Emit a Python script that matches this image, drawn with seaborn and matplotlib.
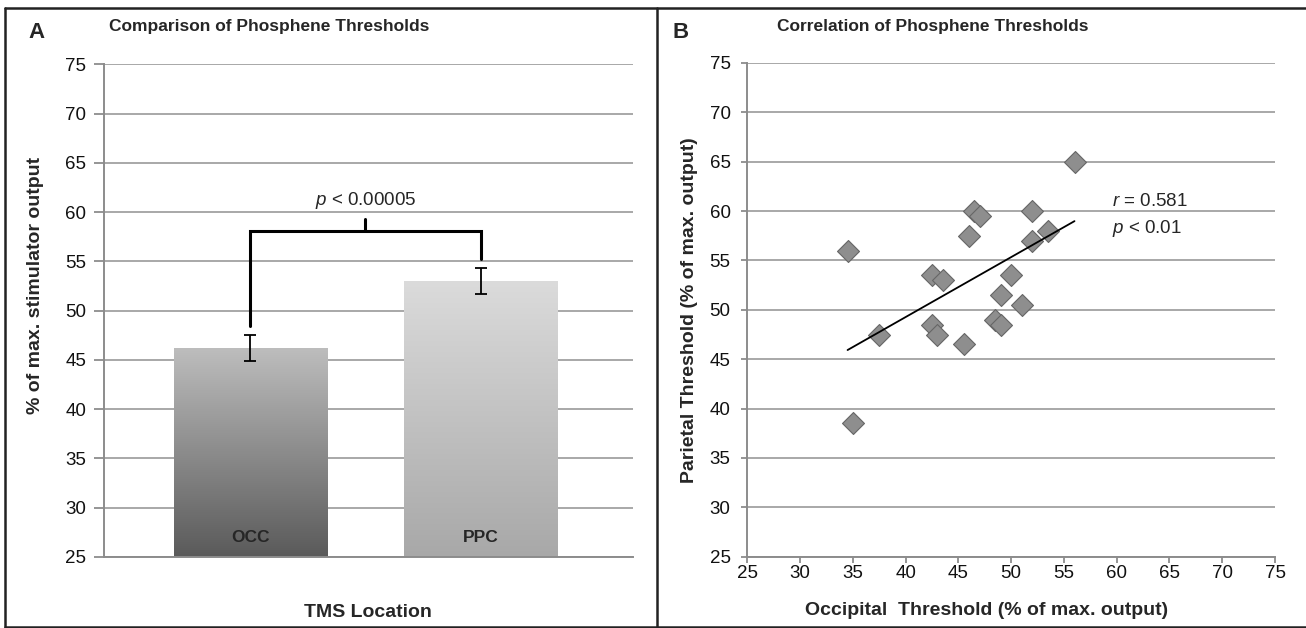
import numpy as np
import pandas as pd
import matplotlib
matplotlib.use('Agg')
import matplotlib.pyplot as plt
import seaborn as sns
from matplotlib import font_manager
from matplotlib.colors import LinearSegmentedColormap
from matplotlib.lines import Line2D

# ---------------------------------------------------------------
# Panel A: mean phosphene threshold per TMS location (+/- SEM)
# ---------------------------------------------------------------
locations = ['OCC', 'PPC']
mean_threshold = [46.2, 53.0]
sem_threshold = [1.35, 1.35]
bar_bottom_colors = ['#5a5a5a', '#a8a8a8']
bar_top_colors = ['#bdbdbd', '#dbdbdb']
p_text_a = '$p$ < 0.00005'

# ---------------------------------------------------------------
# Panel B: occipital vs parietal thresholds per subject
# ---------------------------------------------------------------
occipital = [56.0, 46.5, 47.0, 52.0, 46.0, 53.5, 52.0, 42.5, 43.5, 50.0,
             49.0, 51.0, 42.5, 43.0, 48.5, 49.0, 45.5, 37.5, 34.5, 35.0]
parietal = [65.0, 60.0, 59.5, 60.0, 57.5, 58.0, 57.0, 53.5, 53.0, 53.5,
            51.5, 50.5, 48.5, 47.5, 49.0, 48.5, 46.5, 47.5, 56.0, 38.5]
r_text = '$r$ = 0.581'
p_text_b = '$p$ < 0.01'

axis_ticks = np.arange(25, 80, 5)

sns.set_theme(style='white')
plt.rcParams['font.family'] = ['Liberation Sans', 'DejaVu Sans']
plt.rcParams['mathtext.fontset'] = 'custom'
plt.rcParams['mathtext.it'] = 'Liberation Sans:italic'
plt.rcParams['mathtext.rm'] = 'Liberation Sans'

# titles in the original use a narrow bold face
installed = {f.name for f in font_manager.fontManager.ttflist}
if 'Liberation Sans Narrow' in installed:
    title_font = dict(family=['Liberation Sans Narrow', 'DejaVu Sans'], fontsize=15)
else:
    title_font = dict(family=['Liberation Sans', 'DejaVu Sans'], fontsize=12.5)

grid_col = '#a8a8a8'
spine_col = '#8c8c8c'

fig = plt.figure(figsize=(13.06, 6.28), dpi=100)
axA = fig.add_axes([0.0793, 0.1131, 0.4054, 0.7845])
axB = fig.add_axes([0.5722, 0.1135, 0.4041, 0.7862])

# ---------------- Panel A ----------------
df_a = pd.DataFrame({'loc': locations, 'thr': mean_threshold})
sns.barplot(data=df_a, x='loc', y='thr', ax=axA, width=0.665, color='#999999',
            errorbar=None, zorder=2)

ylo, yhi = 25, 75
for patch, c0, c1 in zip(axA.patches, bar_bottom_colors, bar_top_colors):
    x0 = patch.get_x()
    x1 = x0 + patch.get_width()
    top = patch.get_y() + patch.get_height()
    cmap = LinearSegmentedColormap.from_list('bar', [c0, c1])
    grad = np.linspace(0, 1, 256).reshape(-1, 1)
    axA.imshow(grad, extent=[x0, x1, ylo, top], origin='lower', cmap=cmap,
               aspect='auto', zorder=2.1, interpolation='bicubic')
    patch.set_visible(False)

axA.errorbar(x=np.arange(len(locations)), y=mean_threshold, yerr=sem_threshold,
             fmt='none', ecolor='black', elinewidth=1.3, capsize=4.5, capthick=1.3, zorder=4)

# significance bracket
tops = np.array(mean_threshold) + np.array(sem_threshold)
y_br = tops.max() + 3.75
axA.plot([0, 0, 1, 1], [tops[0] + 0.9, y_br, y_br, tops[1] + 0.9], color='black',
         lw=2.2, solid_joinstyle='miter', zorder=5)
axA.plot([0.5, 0.5], [y_br, y_br + 1.2], color='black', lw=2.2, zorder=5)
axA.text(0.5, y_br + 3.1, p_text_a, ha='center', va='center', fontsize=13.5)

for i, loc in enumerate(locations):
    axA.text(i, 27.0, loc, ha='center', va='center', fontsize=12.5, fontweight='bold', zorder=6)

axA.set_xlim(-0.637, 1.662)
axA.set_ylim(ylo, yhi)
axA.set_yticks(axis_ticks)
axA.set_xticks([])
axA.yaxis.grid(True, color=grid_col, lw=1.4)
axA.set_axisbelow(True)
for s in ['top', 'right']:
    axA.spines[s].set_visible(False)
for s in ['left', 'bottom']:
    axA.spines[s].set_color(spine_col)
    axA.spines[s].set_linewidth(1.4)
axA.tick_params(axis='y', left=True, direction='out', length=7, width=1.3,
                color=spine_col, pad=5.5, labelsize=13.5, labelcolor='#111111')
axA.set_xlabel('TMS Location', fontsize=14, fontweight='bold')
axA.xaxis.set_label_coords(0.5, -0.1137)
axA.xaxis.label.set_va('center')
axA.set_ylabel('% of max. stimulator output', fontsize=14, fontweight='bold')
axA.yaxis.set_label_coords(-0.128, 0.551)
axA.yaxis.label.set_va('center')

# ---------------- Panel B ----------------
sns.regplot(x=occipital, y=parietal, scatter=False, ci=None, ax=axB,
            color='black', line_kws={'lw': 1.3, 'zorder': 4})
sns.scatterplot(x=occipital, y=parietal, marker='D', s=125, color='#8e8e8e',
                edgecolor='#666666', linewidth=0.8, ax=axB, zorder=3)

axB.text(59.6, 61.0, r_text, ha='left', va='center', fontsize=13.5)
axB.text(59.6, 58.2, p_text_b, ha='left', va='center', fontsize=13.5)

axB.set_xlim(25, 75)
axB.set_ylim(25, 75)
axB.set_xticks(axis_ticks)
axB.set_yticks(axis_ticks)
axB.yaxis.grid(True, color=grid_col, lw=1.4)
axB.xaxis.grid(False)
axB.set_axisbelow(True)
for s in ['top', 'right']:
    axB.spines[s].set_visible(False)
for s in ['left', 'bottom']:
    axB.spines[s].set_color(spine_col)
    axB.spines[s].set_linewidth(1.4)
axB.tick_params(axis='y', left=True, direction='out', length=4, width=1.3,
                color=spine_col, pad=8, labelsize=13.5, labelcolor='#111111')
axB.tick_params(axis='x', bottom=True, direction='out', length=4, width=1.3,
                color=spine_col, pad=2, labelsize=13.5, labelcolor='#111111')
axB.set_xlabel('Occipital  Threshold (% of max. output)', fontsize=14, fontweight='bold')
axB.xaxis.set_label_coords(0.454, -0.108)
axB.xaxis.label.set_va('center')
axB.set_ylabel('Parietal Threshold (% of max. output)', fontsize=14, fontweight='bold')
axB.yaxis.set_label_coords(-0.109, 0.5)
axB.yaxis.label.set_va('center')

# ---------------- titles, panel letters, frame ----------------
W, H = 1306, 628
fig.text(269 / W, 1 - 31 / H, 'Comparison of Phosphene Thresholds', ha='center',
         va='baseline', fontweight='bold', **title_font)
fig.text(933 / W, 1 - 31 / H, 'Correlation of Phosphene Thresholds', ha='center',
         va='baseline', fontweight='bold', **title_font)
fig.text(28 / W, 1 - 32 / H, 'A', ha='left', va='center', fontsize=16, fontweight='bold')
fig.text(672 / W, 1 - 32 / H, 'B', ha='left', va='center', fontsize=16, fontweight='bold')

frame_kw = dict(transform=fig.transFigure, color='#222222', lw=1.8)
fig.add_artist(Line2D([5 / W, 5 / W], [1 - 7.5 / H, 1 - 626.5 / H], **frame_kw))
fig.add_artist(Line2D([5 / W, 1.0], [1 - 7.5 / H, 1 - 7.5 / H], **frame_kw))
fig.add_artist(Line2D([5 / W, 1.0], [1 - 626.5 / H, 1 - 626.5 / H], **frame_kw))
fig.add_artist(Line2D([657.3 / W, 657.3 / W], [1 - 7.5 / H, 1 - 626.5 / H], **frame_kw))

fig.savefig('out.png', dpi=100)
